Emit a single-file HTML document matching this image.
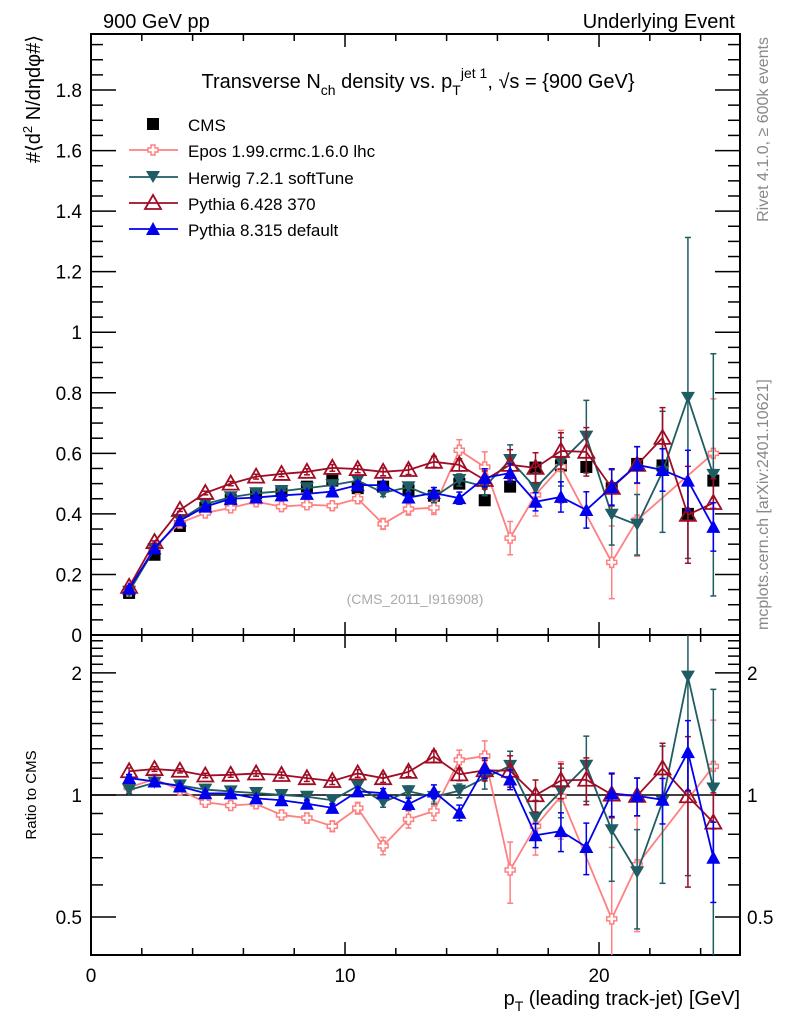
<!DOCTYPE html>
<html><head><meta charset="utf-8"><style>
html,body{margin:0;padding:0;background:#fff;overflow:hidden;width:786px;height:1024px;}
svg{display:block;font-family:"Liberation Sans",Arial,sans-serif;}
</style></head><body>
<svg id="c" width="786" height="1024" xmlns="http://www.w3.org/2000/svg">
<defs>
<clipPath id="clipMain"><rect x="91" y="34" width="649" height="601"/></clipPath>
<clipPath id="clipRatio"><rect x="91" y="635" width="649" height="320"/></clipPath>
</defs>
<text x="103" y="28" font-size="20">900 GeV pp</text>
<text x="735" y="28" font-size="20" text-anchor="end">Underlying Event</text>
<text x="418" y="88" font-size="20" text-anchor="middle">Transverse N<tspan font-size="14" dy="7">ch</tspan><tspan dy="-7"> density vs. p</tspan><tspan font-size="14" dy="7">T</tspan><tspan font-size="14" dy="-17">jet 1</tspan><tspan dy="10">, √s = {900 GeV}</tspan></text>
<text transform="translate(40,35) rotate(-90)" font-size="20" text-anchor="end">#⟨d<tspan font-size="13" dy="-8">2</tspan><tspan dy="8"> N/dηdφ#⟩</tspan></text>
<text transform="translate(36,795) rotate(-90)" font-size="15" text-anchor="middle">Ratio to CMS</text>
<text x="740" y="1005" font-size="20" text-anchor="end">p<tspan font-size="14" dy="6">T</tspan><tspan dy="-6"> (leading track-jet) [GeV]</tspan></text>
<text transform="translate(768,37) rotate(-90)" font-size="16" fill="#888" text-anchor="end">Rivet 4.1.0, ≥ 600k events</text>
<text transform="translate(768,630) rotate(-90)" font-size="16" fill="#888">mcplots.cern.ch [arXiv:2401.10621]</text>
<text x="415" y="604" font-size="14" fill="#aaa" text-anchor="middle">(CMS_2011_I916908)</text>
<g id="axes"></g>
<g id="mainData" clip-path="url(#clipMain)"></g>
<g id="ratioData" clip-path="url(#clipRatio)"></g>
<g id="legend"></g>
</svg>
<script>
const xCenters=[1.5,2.5,3.5,4.5,5.5,6.5,7.5,8.5,9.5,10.5,11.5,12.5,13.5,14.5,15.5,16.5,17.5,18.5,19.5,20.5,21.5,22.5,23.5,24.5];
const cmsVals=[0.139,0.265,0.36,0.42,0.446,0.463,0.475,0.49,0.51,0.485,0.49,0.478,0.46,0.50,0.445,0.49,0.553,0.56,0.555,0.485,0.565,0.56,0.40,0.51];
const cmsErr=[0.005,0.006,0.006,0.007,0.007,0.008,0.008,0.009,0.009,0.01,0.01,0.01,0.011,0.012,0.012,0.013,0.014,0.015,0.016,0.017,0.018,0.02,0.02,0.022];
const eposVals=[0.145,0.29,0.37,0.403,0.42,0.44,0.424,0.43,0.427,0.45,0.367,0.416,0.42,0.61,0.555,0.32,0.463,0.556,null,0.24,0.38,null,null,0.60];
const eposErr=[0.004,0.006,0.007,0.008,0.009,0.01,0.011,0.012,0.013,0.015,0.018,0.02,0.022,0.035,0.05,0.055,0.07,0.12,0.1,0.12,0.12,0.15,0.15,0.18];
const herwigVals=[0.143,0.284,0.38,0.433,0.455,0.468,0.475,0.485,0.495,0.51,0.47,0.488,0.455,0.512,0.49,0.578,0.486,0.572,0.655,0.397,0.364,0.539,0.783,0.529];
const herwigErr=[0.003,0.004,0.005,0.006,0.007,0.008,0.009,0.01,0.011,0.012,0.013,0.015,0.018,0.02,0.03,0.05,0.05,0.08,0.12,0.1,0.1,0.2,0.53,0.4];
const py6Vals=[0.159,0.307,0.413,0.469,0.5,0.523,0.532,0.539,0.552,0.548,0.539,0.545,0.572,0.562,0.512,0.562,0.552,0.608,0.605,0.486,0.562,0.651,0.397,0.436];
const py6Err=[0.003,0.004,0.005,0.006,0.007,0.008,0.009,0.01,0.011,0.012,0.013,0.015,0.018,0.02,0.03,0.05,0.05,0.06,0.08,0.06,0.06,0.1,0.16,0.08];
const py8Vals=[0.153,0.286,0.378,0.424,0.45,0.454,0.461,0.466,0.474,0.495,0.495,0.454,0.469,0.452,0.519,0.535,0.44,0.456,0.413,0.489,0.562,0.545,0.51,0.357];
const py8Err=[0.003,0.004,0.005,0.006,0.007,0.008,0.009,0.01,0.011,0.012,0.013,0.015,0.018,0.02,0.03,0.03,0.03,0.05,0.06,0.06,0.06,0.07,0.1,0.08];
const mainYTicks=[0,0.2,0.4,0.6,0.8,1,1.2,1.4,1.6,1.8];
const ratioTicks=[0.5,1,2];
const xTicks=[0,10,20];

const NS='http://www.w3.org/2000/svg';
const L=91,R=740,MT=34,MB=635,RT=635,RB=955;
const X0=0,X1=25.55,Y0=0,Y1=1.985,RL=0.403,RH=2.48;
function sx(v){return L+(v-X0)/(X1-X0)*(R-L);}
function sy(v){return MB-(v-Y0)/(Y1-Y0)*(MB-MT);}
function sr(v){return RB-(Math.log(v)-Math.log(RL))/(Math.log(RH)-Math.log(RL))*(RB-RT);}
function mk(tag,at,parent){const e=document.createElementNS(NS,tag);for(const k in at)e.setAttribute(k,at[k]);parent.appendChild(e);return e;}
const axes=document.getElementById('axes');
let f1=mk('rect',{x:L,y:MT,width:R-L,height:MB-MT,fill:'none',stroke:'#000','stroke-width':2},axes);


let f2=mk('rect',{x:L,y:RT,width:R-L,height:RB-RT,fill:'none',stroke:'#000','stroke-width':2},axes);


for(let v=0;v<=25;v+=1){
  const major=v%10===0, mid=v%2===0;
  const len=major?13:(mid?7:0);
  if(!len)continue;
  const x=sx(v);
  [[MT,1],[MB,-1],[RT,1],[RB,-1]].forEach(([y,d])=>{mk('line',{x1:x,x2:x,y1:y,y2:y+d*len,stroke:'#000','stroke-width':1.5},axes);});
}
xTicks.forEach(v=>{const t=mk('text',{x:sx(v),y:982,'font-size':19,'text-anchor':'middle'},axes);t.textContent=v;

});
for(let i=0;i<=39;i++){const v=i*0.05;if(v>Y1)break;const major=i%4===0;const len=major?25:12;const y=sy(v);
  mk('line',{x1:L,x2:L+len,y1:y,y2:y,stroke:'#000','stroke-width':1.5},axes);
  mk('line',{x1:R,x2:R-len,y1:y,y2:y,stroke:'#000','stroke-width':1.5},axes);}
mainYTicks.forEach(v=>{const t=mk('text',{x:82,y:sy(v)+7,'font-size':19,'text-anchor':'end'},axes);t.textContent=(v===0?'0':String(v));

});
const minorR=[0.5,0.6,0.7,0.8,0.9,1,1.1,1.2,1.3,1.4,1.5,1.6,1.7,1.8,1.9,2,2.1,2.2,2.3,2.4];
minorR.forEach(v=>{const major=ratioTicks.includes(v);const len=major?25:12;const y=sr(v);
  mk('line',{x1:L,x2:L+len,y1:y,y2:y,stroke:'#000','stroke-width':1.5},axes);
  mk('line',{x1:R,x2:R-len,y1:y,y2:y,stroke:'#000','stroke-width':1.5},axes);});
ratioTicks.forEach(v=>{const t=mk('text',{x:82,y:sr(v)+7,'font-size':19,'text-anchor':'end'},axes);t.textContent=v;


const t2=mk('text',{x:747,y:sr(v)+7,'font-size':19},axes);t2.textContent=v;

});
mk('line',{x1:L,x2:R,y1:sr(1),y2:sr(1),stroke:'#000','stroke-width':1.5},axes);

function marker(g,type,x,y,col){
  if(type==='square')return mk('rect',{x:x-6,y:y-6,width:12,height:12,fill:'#000'},g);
  if(type==='cross'){return mk('path',{d:`M${x-2},${y-5}h4v3h3v4h-3v3h-4v-3h-3v-4h3z`,fill:'#fff',stroke:col,'stroke-width':1.5},g);}
  if(type==='down')return mk('path',{d:`M${x-7},${y-6}L${x+7},${y-6}L${x},${y+6}Z`,fill:col},g);
  if(type==='upopen')return mk('path',{d:`M${x-8},${y+6}L${x+8},${y+6}L${x},${y-8}Z`,fill:'none',stroke:col,'stroke-width':1.8},g);
  if(type==='up')return mk('path',{d:`M${x-7},${y+6}L${x+7},${y+6}L${x},${y-7}Z`,fill:col},g);
}
const series=[
 {name:'epos',vals:eposVals,err:eposErr,col:'#ff8080',m:'cross',label:'Epos 1.99.crmc.1.6.0 lhc'},
 {name:'herwig',vals:herwigVals,err:herwigErr,col:'#1f5c64',m:'down',label:'Herwig 7.2.1 softTune'},
 {name:'pythia6',vals:py6Vals,err:py6Err,col:'#a00c24',m:'upopen',label:'Pythia 6.428 370'},
 {name:'pythia8',vals:py8Vals,err:py8Err,col:'#0000ee',m:'up',label:'Pythia 8.315 default'}
];
const gm=document.getElementById('mainData'), gr=document.getElementById('ratioData');
const cg=mk('g',{},gm);


xCenters.forEach((xc,i)=>{const x=sx(xc);mk('line',{x1:x,x2:x,y1:sy(cmsVals[i]-cmsErr[i]),y2:sy(cmsVals[i]+cmsErr[i]),stroke:'#000','stroke-width':1.5},cg);
 const p=marker(cg,'square',x,sy(cmsVals[i]));
 
 });
series.forEach(s=>{
  [[gm,(i)=>sy(s.vals[i]),(i,d)=>sy(s.vals[i]+d*s.err[i])],[gr,(i)=>sr(Math.max(s.vals[i]/cmsVals[i],0.05)),(i,d)=>sr(Math.max((s.vals[i]+d*s.err[i])/cmsVals[i],0.05))]].forEach(([par,fy,fe],pi)=>{
    const g=mk('g',{},par);
    
    
    const idx=xCenters.map((_,i)=>i).filter(i=>s.vals[i]!==null);
    const pts=idx.map(i=>sx(xCenters[i])+','+fy(i)).join(' ');
    mk('polyline',{points:pts,fill:'none',stroke:s.col,'stroke-width':1.8},g);
    idx.forEach(i=>{const x=sx(xCenters[i]);const y1=fe(i,-1),y2=fe(i,1);
      mk('line',{x1:x,x2:x,y1:y1,y2:y2,stroke:s.col,'stroke-width':1.5},g);
      mk('line',{x1:x-3,x2:x+3,y1:y1,y2:y1,stroke:s.col,'stroke-width':1.5},g);
      mk('line',{x1:x-3,x2:x+3,y1:y2,y2:y2,stroke:s.col,'stroke-width':1.5},g);
      const p=marker(g,s.m,x,fy(i),s.col);
      
      });
  });
});
const lg=document.getElementById('legend');
const rows=[124,150,177,203,229];
const e0=mk('g',{},lg);


marker(e0,'square',153,rows[0]);
const t0=mk('text',{x:188,y:rows[0]+7,'font-size':17},e0);t0.textContent='CMS';
series.forEach((s,k)=>{const y=rows[k+1];const g=mk('g',{},lg);
  
  
  mk('line',{x1:129,x2:178,y1:y,y2:y,stroke:s.col,'stroke-width':1.8},g);
  marker(g,s.m,153,y,s.col);
  const t=mk('text',{x:188,y:y+7,'font-size':17},g);t.textContent=s.label;});
</script>
</body></html>
